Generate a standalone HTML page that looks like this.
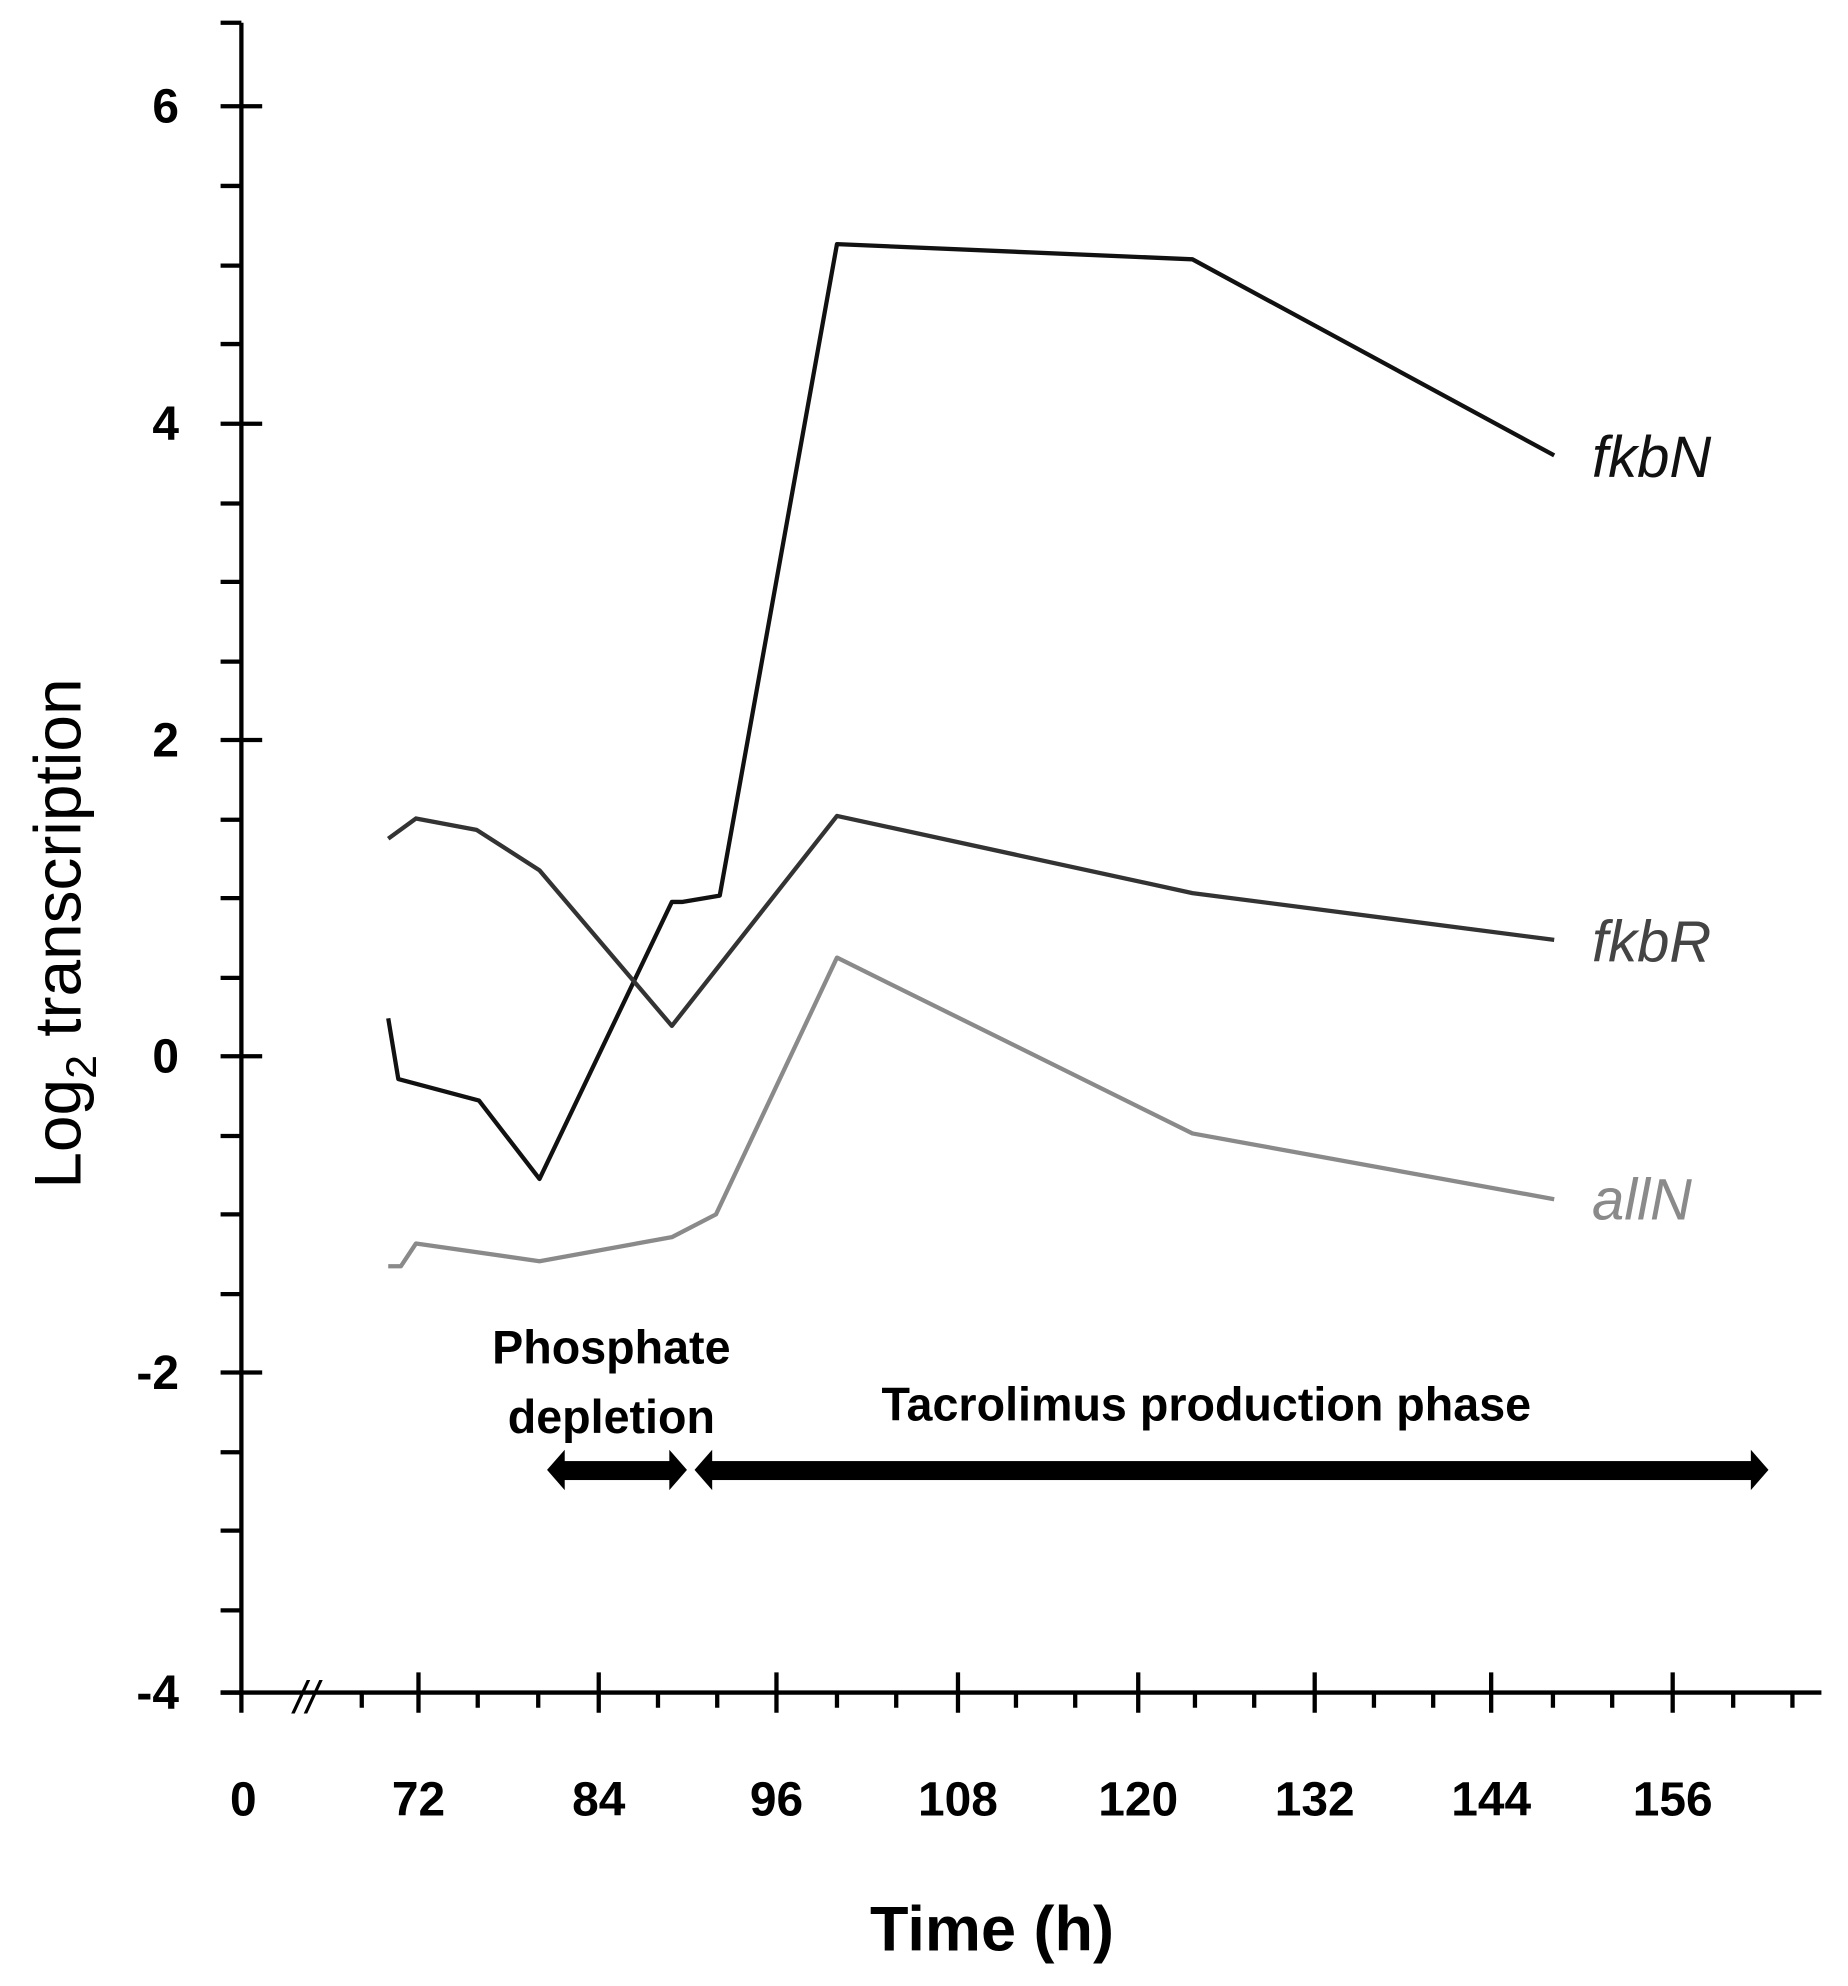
<!DOCTYPE html>
<html><head><meta charset="utf-8"><style>html,body{margin:0;padding:0;background:#fff}svg{display:block}</style></head>
<body>
<svg width="1848" height="1986" viewBox="0 0 1848 1986" xmlns="http://www.w3.org/2000/svg">
<g transform="scale(1.2605,1.265)" font-family="Liberation Sans, sans-serif">
<g stroke="#000" stroke-width="3.4" fill="none">
<line x1="191.5" y1="18" x2="191.5" y2="1340"/>
<line x1="175" y1="1338" x2="1445" y2="1338"/>
<line x1="175" y1="18" x2="191.5" y2="18"/>
<path d="M175 84H208M175 335H208M175 585H208M175 835H208M175 1085H208M175 1338H191"/>
<path d="M175 147H191M175 210H191M175 272H191M175 398H191M175 460H191M175 523H191M175 648H191M175 710H191M175 773H191M175 898H191M175 960H191M175 1023H191M175 1148H191M175 1210H191M175 1273H191"/>
<path d="M191.5 1338V1354M332 1322V1354M475 1322V1354M616 1322V1354M760 1322V1354M903 1322V1354M1043 1322V1354M1183 1322V1354M1327 1322V1354"/>
<path d="M287 1338V1350M379 1338V1350M427 1338V1350M522 1338V1350M569 1338V1350M664 1338V1350M711 1338V1350M806 1338V1350M853 1338V1350M948 1338V1350M995 1338V1350M1090 1338V1350M1137 1338V1350M1232 1338V1350M1279 1338V1350M1375 1338V1350M1422 1338V1350"/>
</g>
<text x="243" y="1354" font-size="36" font-style="italic" text-anchor="middle" fill="#000">//</text>
<g font-size="38" font-weight="bold" text-anchor="end" fill="#000">
<text x="142" y="97">6</text><text x="142" y="348">4</text><text x="142" y="598">2</text>
<text x="142" y="848">0</text><text x="142" y="1098">-2</text><text x="142" y="1351">-4</text>
</g>
<g font-size="38" font-weight="bold" text-anchor="middle" fill="#000">
<text x="193" y="1435">0</text><text x="332" y="1435">72</text><text x="475" y="1435">84</text>
<text x="616" y="1435">96</text><text x="760" y="1435">108</text><text x="903" y="1435">120</text>
<text x="1043" y="1435">132</text><text x="1183" y="1435">144</text><text x="1327" y="1435">156</text>
</g>
<text x="787" y="1542" font-size="50" font-weight="bold" text-anchor="middle" fill="#000">Time (h)</text>
<text transform="translate(64,738) rotate(-90)" font-size="52" text-anchor="middle" fill="#000">Log<tspan font-size="34" dy="12">2</tspan><tspan dy="-12"> transcription</tspan></text>
<g fill="none" stroke-width="3.4" stroke-linejoin="round">
<polyline stroke="#111" points="308,805 316,853 380,870 428,932 533,713 541,713 571,708 664,193 946,205 1233,360"/>
<polyline stroke="#333" points="308,663 330,647 378,656 428,688 533,811 664,645 946,706 1233,743"/>
<polyline stroke="#8a8a8a" points="308,1001 318,1001 330,983 428,997 533,978 568,960 664,757 946,896 1233,948"/>
</g>
<g font-size="46" font-style="italic">
<text x="1263" y="377" fill="#111">fkbN</text>
<text x="1263" y="760" fill="#444">fkbR</text>
<text x="1263" y="964" fill="#8a8a8a">allN</text>
</g>
<g font-size="37" font-weight="bold" text-anchor="middle" fill="#000">
<text x="485" y="1078">Phosphate</text><text x="485" y="1133">depletion</text>
<text x="957" y="1123">Tacrolimus production phase</text>
</g>
<g fill="#000">
<rect x="445" y="1155" width="88" height="15"/>
<polygon points="434,1162 448,1146 448,1178"/>
<polygon points="545,1162 531,1146 531,1178"/>
<rect x="562" y="1155" width="830" height="15"/>
<polygon points="551,1162 565,1146 565,1178"/>
<polygon points="1403,1162 1389,1146 1389,1178"/>
</g>
</g>
</svg>
</body></html>
